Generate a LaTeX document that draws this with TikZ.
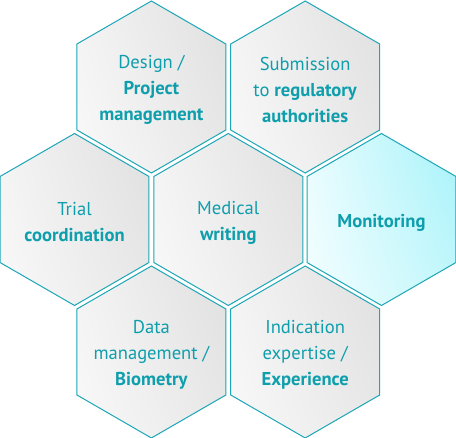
\documentclass[tikz,border=0pt]{standalone}
\usepackage{fontspec}
\setmainfont{PT Sans}
\usetikzlibrary{shapes.geometric,shadings}
\definecolor{hexline}{RGB}{28,166,182}
\definecolor{hextext}{RGB}{14,158,172}
\definecolor{gUL}{RGB}{243,243,243}
\definecolor{gUR}{RGB}{224,224,224}
\definecolor{gLL}{RGB}{249,249,249}
\definecolor{gLR}{RGB}{232,232,232}
\definecolor{cUL}{RGB}{232,252,254}
\definecolor{cUR}{RGB}{166,243,250}
\definecolor{cLL}{RGB}{244,254,255}
\definecolor{cLR}{RGB}{196,247,251}
\begin{document}
\begin{tikzpicture}[x=1pt,y=-1pt,
  hexbase/.style={regular polygon, regular polygon sides=6, shape border rotate=30,
    minimum size=172pt, inner sep=0pt, outer sep=0pt, draw=hexline, line width=1pt},
  greyhex/.style={hexbase, shade, upper left=gUL, upper right=gUR, lower left=gLL, lower right=gLR},
  cyanhex/.style={hexbase, shade, upper left=cUL, upper right=cUR, lower left=cLL, lower right=cLR},
  hextxt/.style={text=hextext, font=\fontsize{18.6}{26}\selectfont, align=center, inner sep=0pt}]
\useasboundingbox (0,0) rectangle (456,438);
\node[greyhex] (design) at (151.4,87) {};
\node[greyhex] (submission) at (305.2,87) {};
\node[greyhex] (trial) at (74.5,219.5) {};
\node[greyhex] (medical) at (228.3,219.5) {};
\node[cyanhex] (monitoring) at (381.5,219.5) {};
\node[greyhex] (data) at (151.4,352) {};
\node[greyhex] (indication) at (305.2,352) {};
\node[hextxt] (designtxt) at ([yshift=-3pt]design.center) {Design /\\\textbf{Project}\\\textbf{management}};
\node[hextxt] (submissiontxt) at ([yshift=-3pt]submission.center) {Submission\\to \textbf{regulatory}\\\textbf{authorities}};
\node[hextxt] (trialtxt) at ([yshift=-3pt]trial.center) {Trial\\\textbf{coordination}};
\node[hextxt] (medicaltxt) at ([yshift=-3pt]medical.center) {Medical\\\textbf{writing}};
\node[hextxt] (monitoringtxt) at ([yshift=-3pt]monitoring.center) {\textbf{Monitoring}};
\node[hextxt] (datatxt) at ([yshift=-3pt]data.center) {Data\\management /\\\textbf{Biometry}};
\node[hextxt] (indicationtxt) at ([yshift=-3pt]indication.center) {Indication\\expertise /\\\textbf{Experience}};
\end{tikzpicture}
\end{document}
